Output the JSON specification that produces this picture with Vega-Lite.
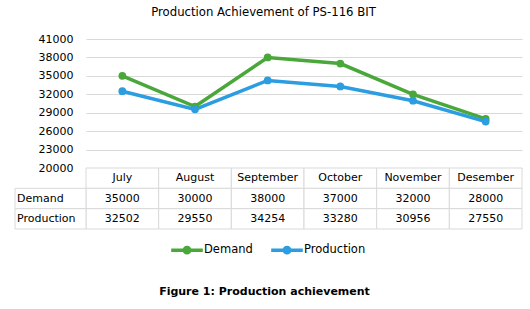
{
  "$schema": "https://vega.github.io/schema/vega-lite/v6.json",
  "background": "white",
  "padding": {"left": 14, "top": 7, "right": 5, "bottom": 5},
  "title": {"text": "Production Achievement of PS-116 BIT", "anchor": "middle", "dx": -5, "fontSize": 11.7, "fontWeight": "normal", "font": "DejaVu Sans", "color": "#000", "offset": 14},
  "datasets": {
    "table": [
      {"month": "July", "Demand": 35000, "Production": 32502},
      {"month": "August", "Demand": 30000, "Production": 29550},
      {"month": "September", "Demand": 38000, "Production": 34254},
      {"month": "October", "Demand": 37000, "Production": 33280},
      {"month": "November", "Demand": 32000, "Production": 30956},
      {"month": "Desember", "Demand": 28000, "Production": 27550}
    ]
  },
  "spacing": 0,
  "bounds": "flush",
  "vconcat": [
    {
      "width": 436,
      "height": 129,
      "data": {"name": "table"},
      "transform": [{"fold": ["Demand", "Production"], "as": ["series", "value"]}],
      "mark": {"type": "line", "strokeWidth": 3.5, "point": {"filled": true, "size": 60}},
      "encoding": {
        "x": {"field": "month", "type": "nominal", "sort": ["July", "August", "September", "October", "November", "Desember"], "scale": {"type": "point", "padding": 0.5}, "axis": null},
        "y": {"field": "value", "type": "quantitative", "scale": {"domain": [20000, 41000], "nice": false, "zero": false},
          "axis": {"values": [20000, 23000, 26000, 29000, 32000, 35000, 38000, 41000], "format": "d", "title": null, "grid": true, "gridColor": "#d9d9d9", "domain": false, "ticks": false, "labelPadding": 13, "labelFont": "DejaVu Sans", "labelFontSize": 11, "labelColor": "#000"}},
        "color": {"field": "series", "type": "nominal", "scale": {"domain": ["Demand", "Production"], "range": ["#4aa83b", "#2b9de0"]},
          "legend": {"orient": "none", "direction": "horizontal", "legendX": 83, "legendY": 193, "title": null, "padding": 0,
            "symbolType": "M-1,0L1,0M-0.17,0A0.17,0.17 0 1,0 0.17,0A0.17,0.17 0 1,0 -0.17,0",
            "symbolSize": 1000, "symbolStrokeWidth": 3.5, "labelOffset": -1, "columnPadding": 11,
            "labelFont": "DejaVu Sans", "labelFontSize": 11.5, "labelColor": "#000"}}
      }
    },
    {
      "width": 436,
      "height": 61,
      "data": {"name": "table"},
      "title": {"text": "Figure 1: Production achievement", "orient": "bottom", "anchor": "middle", "frame": "bounds", "dx": -4, "offset": 56, "fontSize": 11, "fontWeight": "bold", "font": "DejaVu Sans", "color": "#000"},
      "layer": [
        {
          "mark": {"type": "rect", "fill": "white", "stroke": "#d9d9d9", "strokeWidth": 1},
          "encoding": {
            "x": {"field": "month", "type": "nominal", "sort": ["July", "August", "September", "October", "November", "Desember"], "scale": {"type": "band", "paddingInner": 0, "paddingOuter": 0}, "axis": null},
            "y": {"datum": "header", "type": "nominal", "scale": {"type": "band", "domain": ["header", "Demand", "Production"], "paddingInner": 0, "paddingOuter": 0}, "axis": null}
          }
        },
        {
          "mark": {"type": "text", "font": "DejaVu Sans", "fontSize": 11, "color": "#000", "baseline": "middle"},
          "encoding": {
            "x": {"field": "month", "type": "nominal", "sort": ["July", "August", "September", "October", "November", "Desember"], "scale": {"type": "band", "paddingInner": 0, "paddingOuter": 0}, "axis": null},
            "y": {"datum": "header", "type": "nominal", "scale": {"type": "band", "domain": ["header", "Demand", "Production"], "paddingInner": 0, "paddingOuter": 0}, "axis": null},
            "text": {"field": "month"}
          }
        },
        {
          "transform": [{"fold": ["Demand", "Production"], "as": ["series", "value"]}],
          "mark": {"type": "rect", "fill": "white", "stroke": "#d9d9d9", "strokeWidth": 1},
          "encoding": {
            "x": {"field": "month", "type": "nominal", "sort": ["July", "August", "September", "October", "November", "Desember"], "scale": {"type": "band", "paddingInner": 0, "paddingOuter": 0}, "axis": null},
            "y": {"field": "series", "type": "nominal", "scale": {"type": "band", "domain": ["header", "Demand", "Production"], "paddingInner": 0, "paddingOuter": 0}, "axis": null}
          }
        },
        {
          "transform": [{"fold": ["Demand", "Production"], "as": ["series", "value"]}],
          "mark": {"type": "text", "font": "DejaVu Sans", "fontSize": 11, "color": "#000", "baseline": "middle"},
          "encoding": {
            "x": {"field": "month", "type": "nominal", "sort": ["July", "August", "September", "October", "November", "Desember"], "scale": {"type": "band", "paddingInner": 0, "paddingOuter": 0}, "axis": null},
            "y": {"field": "series", "type": "nominal", "scale": {"type": "band", "domain": ["header", "Demand", "Production"], "paddingInner": 0, "paddingOuter": 0}, "axis": null},
            "text": {"field": "value", "type": "quantitative", "format": "d"}
          }
        },
        {
          "transform": [{"filter": "datum.month === 'July'"}, {"fold": ["Demand", "Production"], "as": ["series", "value"]}],
          "mark": {"type": "rect", "fill": "white", "stroke": "#d9d9d9", "strokeWidth": 1},
          "encoding": {
            "x": {"datum": "label", "type": "nominal", "scale": {"type": "band", "domain": ["label"], "range": [-71, 0], "paddingInner": 0, "paddingOuter": 0}, "axis": null},
            "y": {"field": "series", "type": "nominal", "scale": {"type": "band", "domain": ["header", "Demand", "Production"], "paddingInner": 0, "paddingOuter": 0}, "axis": null}
          }
        },
        {
          "transform": [{"filter": "datum.month === 'July'"}, {"fold": ["Demand", "Production"], "as": ["series", "value"]}],
          "mark": {"type": "text", "font": "DejaVu Sans", "fontSize": 11, "color": "#000", "baseline": "middle", "align": "left", "dx": 2},
          "encoding": {
            "x": {"datum": "label", "type": "nominal", "bandPosition": 0, "scale": {"type": "band", "domain": ["label"], "range": [-71, 0], "paddingInner": 0, "paddingOuter": 0}, "axis": null},
            "y": {"field": "series", "type": "nominal", "scale": {"type": "band", "domain": ["header", "Demand", "Production"], "paddingInner": 0, "paddingOuter": 0}, "axis": null},
            "text": {"field": "series"}
          }
        }
      ],
      "resolve": {"scale": {"x": "independent"}}
    }
  ],
  "config": {"view": {"stroke": null}}
}
